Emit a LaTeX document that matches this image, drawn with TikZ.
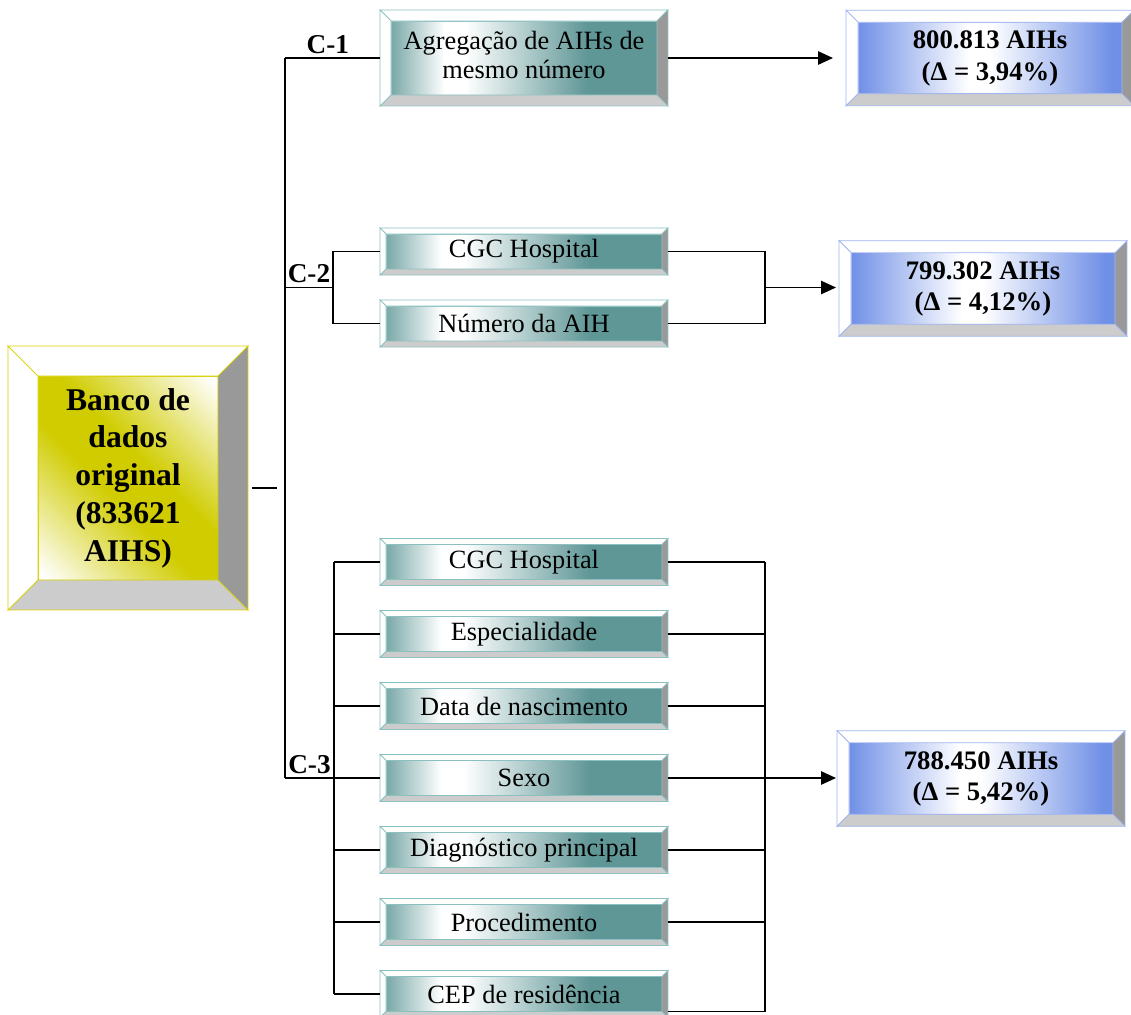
\documentclass[tikz,border=0pt]{standalone}
\usepackage{fontspec}
\setmainfont{Liberation Serif}
\usepackage{xcolor}
\usepackage{tikz}
\usetikzlibrary{positioning, calc, arrows.meta}

\definecolor{tealface}{RGB}{95,150,150}
\definecolor{tealline}{RGB}{140,192,192}
\definecolor{blueface}{RGB}{112,144,230}
\definecolor{blueline}{RGB}{160,180,240}
\definecolor{yellowface}{RGB}{208,204,0}
\definecolor{yellowline}{RGB}{216,208,0}
\definecolor{bevelright}{RGB}{153,153,153}
\definecolor{bevelbottom}{RGB}{204,204,204}

\pgfdeclareverticalshading{origshade}{100bp}{color(0bp)=(white); color(16bp)=(white);
  color(44bp)=(yellowface); color(56bp)=(yellowface); color(84bp)=(white); color(100bp)=(white)}
\pgfdeclarehorizontalshading{critshade}{100bp}{color(0bp)=(tealface); color(23bp)=(tealface);
  color(35bp)=(white); color(39bp)=(white); color(62bp)=(tealface); color(100bp)=(tealface)}
\pgfdeclarehorizontalshading{resshade}{100bp}{color(0bp)=(blueface); color(25bp)=(blueface);
  color(46bp)=(white); color(50bp)=(white); color(73bp)=(blueface); color(100bp)=(blueface)}

\tikzset{
  face/.style = {rectangle, inner sep = 0pt, outer sep = 0pt, align = center, shade},
  origface/.style = {face, draw = yellowline, shading = origshade, shading angle = -45,
    minimum width = 3.6 cm, minimum height = 4.08 cm,
    font = \fontsize{18}{21.5}\selectfont\bfseries},
  critface/.style = {face, draw = tealline, shading = critshade,
    minimum width = 5.52 cm, minimum height = 0.70 cm,
    font = \fontsize{15}{16.5}\selectfont},
  resface/.style = {face, draw = blueline, shading = resshade,
    minimum width = 5.28 cm, minimum height = 1.43 cm,
    font = \fontsize{15.2}{18}\selectfont\bfseries},
  link/.style = {line width = 1.1pt},
  arrowlink/.style = {link, -{Triangle[length = 8.5pt, width = 7.5pt]}},
  crit/.style = {font = \fontsize{15.5}{15.5}\selectfont\bfseries, inner sep = 2pt}
}

% raised frame round a face node: #1 node, #2 depth, #3 frame colour
\newcommand{\bevel}[3]{%
  \coordinate (#1-a) at ($(#1.north west) + (-#2,-#2)$);
  \coordinate (#1-b) at ($(#1.north east) + (#2,-#2)$);
  \coordinate (#1-c) at ($(#1.south east) + (#2,#2)$);
  \coordinate (#1-d) at ($(#1.south west) + (-#2,#2)$);
  \filldraw [draw = #3, fill = white] (#1-a) -- (#1-b) -- (#1.north east)
    -- (#1.north west) -- cycle;
  \filldraw [draw = #3, fill = white] (#1-a) -- (#1.north west) -- (#1.south west)
    -- (#1-d) -- cycle;
  \filldraw [draw = #3, fill = bevelright] (#1-b) -- (#1-c) -- (#1.south east)
    -- (#1.north east) -- cycle;
  \filldraw [draw = #3, fill = bevelbottom] (#1-d) -- (#1.south west)
    -- (#1.south east) -- (#1-c) -- cycle;
}
% text lines lifted a little inside a face
\newcommand{\lifted}[2]{\raisebox{#1}{\begin{tabular}{@{}c@{}}#2\end{tabular}}}

\begin{document}
\begin{tikzpicture}[x = 0.02cm, y = -0.02cm]
    \useasboundingbox (0,0) rectangle (1131,1014);

    \node [origface] (orig) at (128,478)
    {\lifted{3pt}{Banco de\\dados\\original\\(833621\\AIHS)}};
    \bevel{orig}{30}{yellowline}

    \node [critface, minimum width = 5.32 cm, minimum height = 1.48 cm] (agreg)
    at (524,58) {\lifted{4.5pt}{Agregação de AIHs de\\mesmo número}};
    \bevel{agreg}{11}{tealline}
    \node [critface] (cgcA) at (524,251.5) {CGC Hospital};
    \bevel{cgcA}{6}{tealline}
    \node [critface] (numaih) at (524,323.5) {Número da AIH};
    \bevel{numaih}{6}{tealline}
    \foreach \n/\y/\t in {cgcB/562/CGC Hospital, espec/634/Especialidade,
        nasc/706/Data de nascimento, sexo/778/Sexo, diag/850/Diagnóstico principal,
        proc/922/Procedimento, cep/994/CEP de residência} {
        \node [critface] (\n) at (524,\y) {\t};
        \bevel{\n}{6}{tealline}
    }

    \node [resface] (res1) at (990,58) {\lifted{2pt}{800.813 AIHs\\(Δ = 3,94\%)}};
    \bevel{res1}{12}{blueline}
    \node [resface] (res2) at (983,288.5) {\lifted{2pt}{799.302 AIHs\\(Δ = 4,12\%)}};
    \bevel{res2}{12}{blueline}
    \node [resface] (res3) at (981,778.5) {\lifted{2pt}{788.450 AIHs\\(Δ = 5,42\%)}};
    \bevel{res3}{12}{blueline}

    \coordinate (c1) at (285,58);
    \coordinate (c2) at (285,287.5);
    \coordinate (c3) at (285,778);
    \coordinate (l2) at (333,287.5);
    \coordinate (r2) at (765,287.5);
    \coordinate (l3) at (334,778);
    \coordinate (r3) at (765,778);

    \draw [link] ($(orig.east) + (34,10)$) -- ++(25,0);
    \draw [link] (c1) -- (c3);

    \draw [link] (c1) -- ($(agreg.west) + (-11,0)$) node [crit, pos = 0.45, above] {C-1};
    \draw [arrowlink] ($(agreg.east) + (11,0)$) -- ($(res1.west) + (-25,0)$);

    \draw [link] (c2) -- (l2) node [crit, pos = 0.5, above] {C-2};
    \draw [link] ($(cgcA.west) + (-6,0)$) -| (l2) |- ($(numaih.west) + (-6,0)$);
    \draw [link] ($(cgcA.east) + (6,0)$) -| (r2) |- ($(numaih.east) + (6,0)$);
    \draw [arrowlink] (r2) -- ($(r2 -| res2.west) + (-15,0)$);

    \draw [link] (c3) -- (l3) node [crit, pos = 0.5, above] {C-3};
    \draw [link] (l3 |- cgcB.west) -- (l3 |- cep.west);
    \foreach \n in {cgcB, espec, nasc, sexo, diag, proc, cep}
        \draw [link] (l3 |- \n.west) -- ($(\n.west) + (-6,0)$);
    \foreach \n in {cgcB, espec, nasc, sexo, diag, proc}
        \draw [link] ($(\n.east) + (6,0)$) -- (r3 |- \n.east);
    \draw [link] ($(cep.south east) + (6,0)$) -- (r3 |- cep.south);
    \draw [link] (r3 |- cgcB.east) -- (r3 |- cep.south);
    \draw [arrowlink] (r3) -- ($(r3 -| res3.west) + (-13,0)$);
\end{tikzpicture}
\end{document}
